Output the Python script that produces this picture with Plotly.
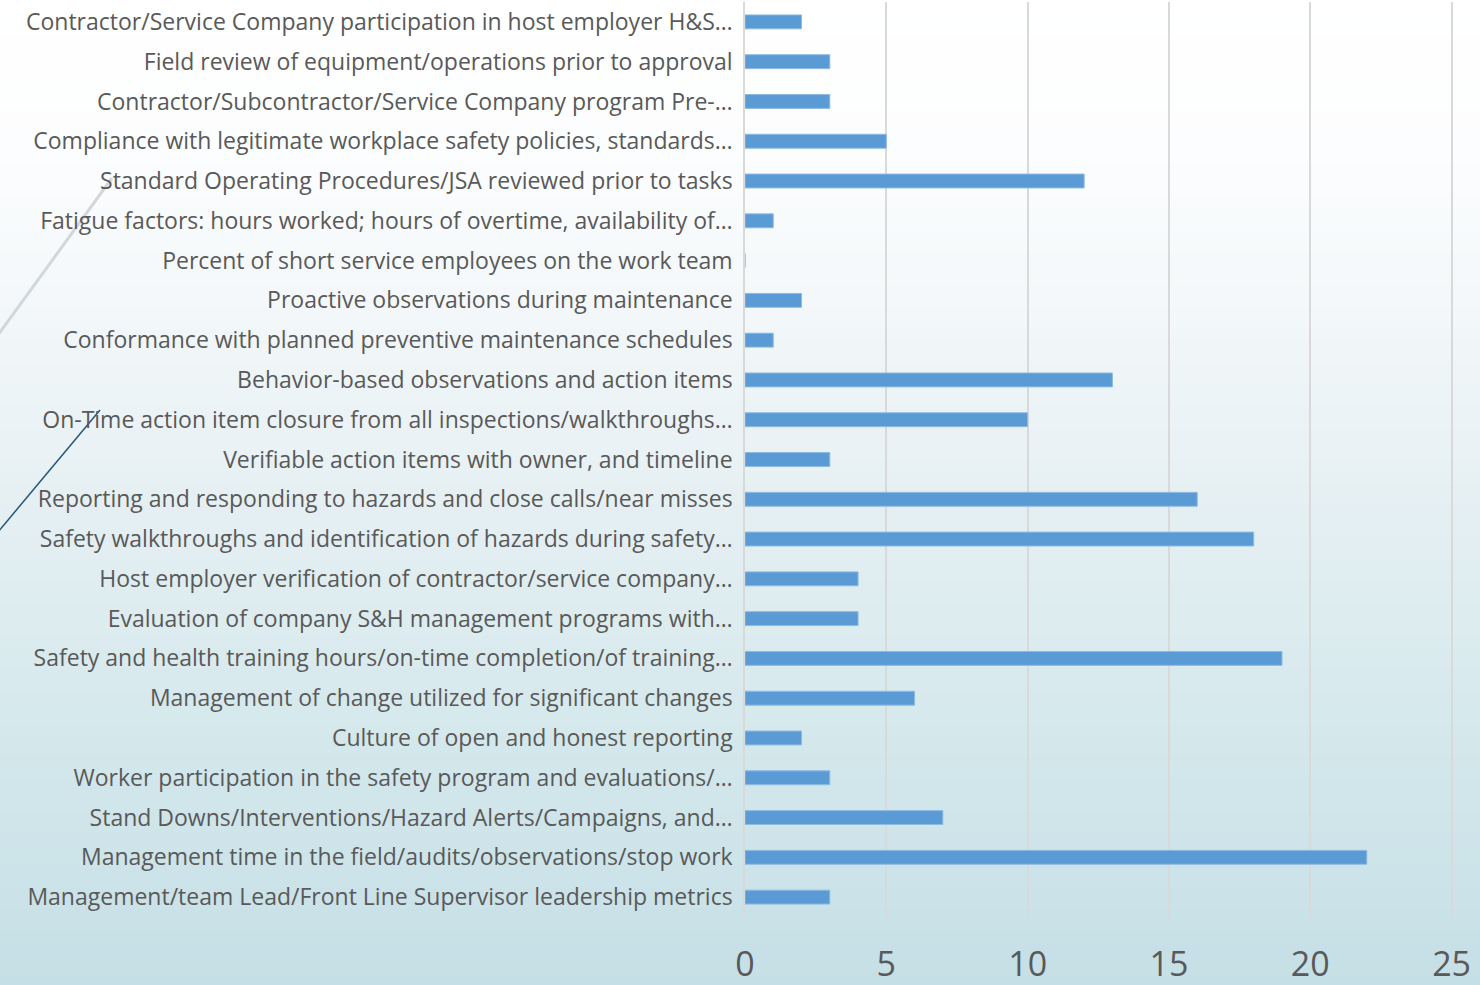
import plotly.graph_objects as go

categories = [
    "Contractor/Service Company participation in host employer H&S…",
    "Field review of equipment/operations prior to approval",
    "Contractor/Subcontractor/Service Company program Pre-…",
    "Compliance with legitimate workplace safety policies, standards…",
    "Standard Operating Procedures/JSA reviewed prior to tasks",
    "Fatigue factors: hours worked; hours of overtime, availability of…",
    "Percent of short service employees on the work team",
    "Proactive observations during maintenance",
    "Conformance with planned preventive maintenance schedules",
    "Behavior-based observations and action items",
    "On-Time action item closure from all inspections/walkthroughs…",
    "Verifiable action items with owner, and timeline",
    "Reporting and responding to hazards and close calls/near misses",
    "Safety walkthroughs and identification of hazards during safety…",
    "Host employer verification of contractor/service company…",
    "Evaluation of company S&H management programs with…",
    "Safety and health training hours/on-time completion/of training…",
    "Management of change utilized for significant changes",
    "Culture of open and honest reporting",
    "Worker participation in the safety program and evaluations/…",
    "Stand Downs/Interventions/Hazard Alerts/Campaigns, and…",
    "Management time in the field/audits/observations/stop work",
    "Management/team Lead/Front Line Supervisor leadership metrics",
]
values = [2, 3, 3, 5, 12, 1, 0, 2, 1, 13, 10, 3, 16, 18, 4, 4, 19, 6, 2, 3, 7, 22, 3]
x_ticks = [0, 5, 10, 15, 20, 25]

fig = go.Figure()
fig.add_trace(go.Bar(
    y=categories, x=values, orientation="h",
    marker=dict(color="#5b9bd5", line=dict(color="#8fbbe3", width=1)),
    width=0.35, hoverinfo="x+y",
))

W, H = 1480, 985
ml, mr, mt, mb = 745, 27, 2, 68
pw, ph = W - ml - mr, H - mt - mb
def px(x):
    return (x - ml) / pw
def py(y):
    return (H - mb - y) / ph

# background gradient as horizontal bands (page pixel rows mapped to paper coords)
stops = [(0.0, (197, 223, 230)), (0.25, (212, 232, 236)), (0.5, (230, 240, 243)),
         (0.7, (244, 248, 250)), (0.85, (252, 253, 254)), (1.0, (255, 255, 255))]
def col(t):
    for (a, ca), (b, cb) in zip(stops[:-1], stops[1:]):
        if a <= t <= b:
            f = (t - a) / (b - a)
            return "rgb(%d,%d,%d)" % tuple(round(ca[i] + f * (cb[i] - ca[i])) for i in range(3))
    return "rgb(255,255,255)"
shapes = []
n = 90
for i in range(n):
    t0 = i / n
    t1 = (i + 1) / n
    ya = H - t0 * H
    yb = H - t1 * H
    shapes.append(dict(type="rect", xref="paper", yref="paper", x0=px(-5), x1=px(W + 5),
                       y0=py(ya) - 0.001, y1=py(yb) + 0.001, fillcolor=col((t0 + t1) / 2),
                       line=dict(width=0), layer="below"))

# decorative diagonal lines
shapes.append(dict(type="line", xref="paper", yref="paper", x0=px(-2), y0=py(532),
                   x1=px(100), y1=py(410), line=dict(color="#24557a", width=1.5), layer="below"))
shapes.append(dict(type="line", xref="paper", yref="paper", x0=px(-2), y0=py(335),
                   x1=px(112), y1=py(178), line=dict(color="rgba(200,206,210,0.8)", width=3), layer="below"))

fig.update_layout(
    width=W, height=H,
    margin=dict(l=ml, r=mr, t=mt, b=mb, autoexpand=False),
    paper_bgcolor="#c5dfe6",
    plot_bgcolor="rgba(0,0,0,0)",
    shapes=shapes,
    showlegend=False,
    xaxis=dict(range=[0, 25.05], tickvals=x_ticks, showgrid=True, gridcolor="#d9d9d9", gridwidth=1.5,
               zeroline=False, showline=False, ticks="", ticklabelstandoff=24, automargin=False,
               tickfont=dict(family="Open Sans", size=34, color="#595959")),
    yaxis=dict(autorange="reversed", showgrid=False, zeroline=False, showline=True,
               linecolor="#d9d9d9", linewidth=1.5, ticks="", ticklabelstandoff=6, automargin=False,
               tickfont=dict(family="Open Sans", size=23, color="#595959")),
)

fig.write_html("out.html", config={"displayModeBar": False},
               post_script="document.body.style.margin='0';document.body.style.overflow='hidden';")
